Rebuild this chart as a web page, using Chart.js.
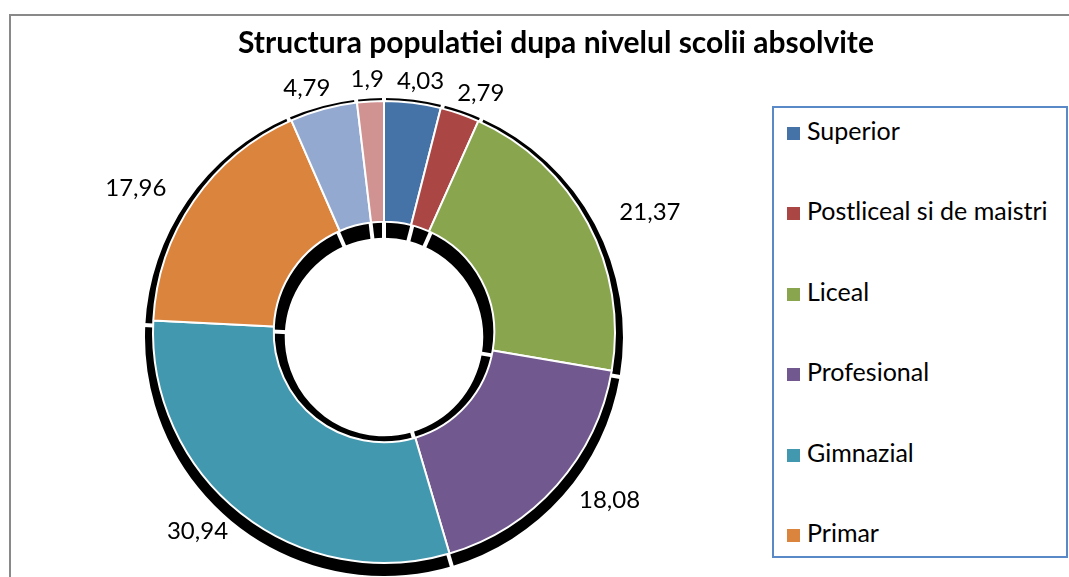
<!DOCTYPE html>
<html>
<head>
<meta charset="utf-8">
<script src="https://cdn.jsdelivr.net/npm/chart.js@4"></script>
<style>
  html, body { margin: 0; padding: 0; background: #fff; overflow: hidden; width: 1069px; height: 577px; }
  #frame { position: absolute; left: 9px; top: 14px; width: 1120px; height: 620px; border: 2px solid #898989; }
  #wrap { position: absolute; left: 0; top: 0; width: 1112px; height: 620px; }
  #title { position: absolute; left: 0; top: 21px; width: 1112px; height: 40px; line-height: 40px; text-align: center;
           font-family: Lato, sans-serif; font-weight: bold; font-size: 30px; color: #000; white-space: nowrap; }
  #legend { position: absolute; left: 772px; top: 106px; width: 292px; height: 448px;
            border: 2px solid #5a89c8; background: #fff; font-family: Lato, sans-serif; font-size: 25px; color: #000; }
  .item { position: absolute; left: 13px; height: 30px; line-height: 30px; white-space: nowrap; }
  .sw { display: inline-block; width: 13px; height: 13px; margin-right: 7px; vertical-align: 0px; }
</style>
</head>
<body>
<div id="frame"></div>
<div id="wrap"><canvas id="chartDonut" width="1112" height="620"></canvas></div>
<div id="title"></div>
<div id="legend"></div>
<script>
const titleText = 'Structura populatiei dupa nivelul scolii absolvite';
const categories = ['Superior', 'Postliceal si de maistri', 'Liceal', 'Profesional', 'Gimnazial', 'Primar',
                    'Fara scoala absolvita', 'Analfabeti'];
const values = [4.03, 2.79, 21.37, 18.08, 30.94, 17.96, 4.79, 1.9];
const colors = ['#4572A7', '#AA4643', '#89A54E', '#71588F', '#4198AF', '#DB843D', '#93A9CF', '#D19392'];
const legendShown = 6; // the legend box cuts off after Primar

// black drop shadow under each slice
const shadowPlugin = {
  id: 'sliceShadow',
  beforeDatasetsDraw(chart) {
    const ctx = chart.ctx;
    const arcs = chart.getDatasetMeta(0).data;
    const dy = 5;
    ctx.save();
    ctx.fillStyle = '#000';
    arcs.forEach(arc => {
      const p = arc.getProps(['x', 'y', 'startAngle', 'endAngle', 'innerRadius', 'outerRadius'], true);
      ctx.beginPath();
      ctx.arc(p.x, p.y + dy, p.outerRadius + 8, p.startAngle, p.endAngle);
      ctx.arc(p.x, p.y + dy, p.innerRadius - 11, p.endAngle, p.startAngle, true);
      ctx.closePath();
      ctx.fill();
    });
    // small white gaps between the shadow pieces
    ctx.strokeStyle = '#fff';
    ctx.lineWidth = 4;
    arcs.forEach(arc => {
      const p = arc.getProps(['x', 'y', 'startAngle', 'innerRadius', 'outerRadius'], true);
      const c = Math.cos(p.startAngle), s = Math.sin(p.startAngle);
      ctx.beginPath();
      ctx.moveTo(p.x + c * (p.innerRadius - 14), p.y + dy + s * (p.innerRadius - 14));
      ctx.lineTo(p.x + c * (p.outerRadius + 10), p.y + dy + s * (p.outerRadius + 10));
      ctx.stroke();
    });
    ctx.restore();
  }
};

// values outside the ring
const labelPlugin = {
  id: 'valueLabels',
  afterDatasetsDraw(chart) {
    const ctx = chart.ctx;
    const data = chart.data.datasets[0].data;
    ctx.save();
    ctx.font = '24px Lato';
    ctx.fillStyle = '#000';
    ctx.textAlign = 'center';
    ctx.textBaseline = 'middle';
    chart.getDatasetMeta(0).data.forEach((arc, i) => {
      const p = arc.getProps(['x', 'y', 'startAngle', 'endAngle', 'outerRadius'], true);
      const mid = (p.startAngle + p.endAngle) / 2;
      const text = String(data[i]).replace('.', ',');
      const w = ctx.measureText(text).width;
      const c = Math.cos(mid), s = Math.sin(mid);
      const x = p.x + c * (p.outerRadius + 40 + w / 2);
      const y = p.y + s * (p.outerRadius + 14 + 8);
      ctx.fillText(text, x, y);
    });
    ctx.restore();
  }
};

document.getElementById('title').textContent = titleText;

const ctx = document.getElementById('chartDonut').getContext('2d');
new Chart(ctx, {
  type: 'doughnut',
  data: {
    labels: categories,
    datasets: [{
      data: values,
      backgroundColor: colors,
      borderColor: '#fff',
      borderWidth: 2,
      hoverOffset: 0,
      offset: 0
    }]
  },
  options: {
    responsive: false,
    devicePixelRatio: 1,
    animation: false,
    radius: 231,
    cutout: 116,
    layout: { padding: { left: 140, right: 484, top: 66, bottom: 22 } },
    plugins: {
      legend: { display: false },
      tooltip: { enabled: false },
      title: { display: false }
    }
  },
  plugins: [shadowPlugin, labelPlugin]
});

// legend box, first items only
const legendEl = document.getElementById('legend');
categories.slice(0, legendShown).forEach((name, i) => {
  const div = document.createElement('div');
  div.className = 'item';
  div.style.top = (7 + i * 80.4) + 'px';
  div.innerHTML = '<span class="sw" style="background:' + colors[i] + '"></span>' + name;
  legendEl.appendChild(div);
});
</script>
</body>
</html>
